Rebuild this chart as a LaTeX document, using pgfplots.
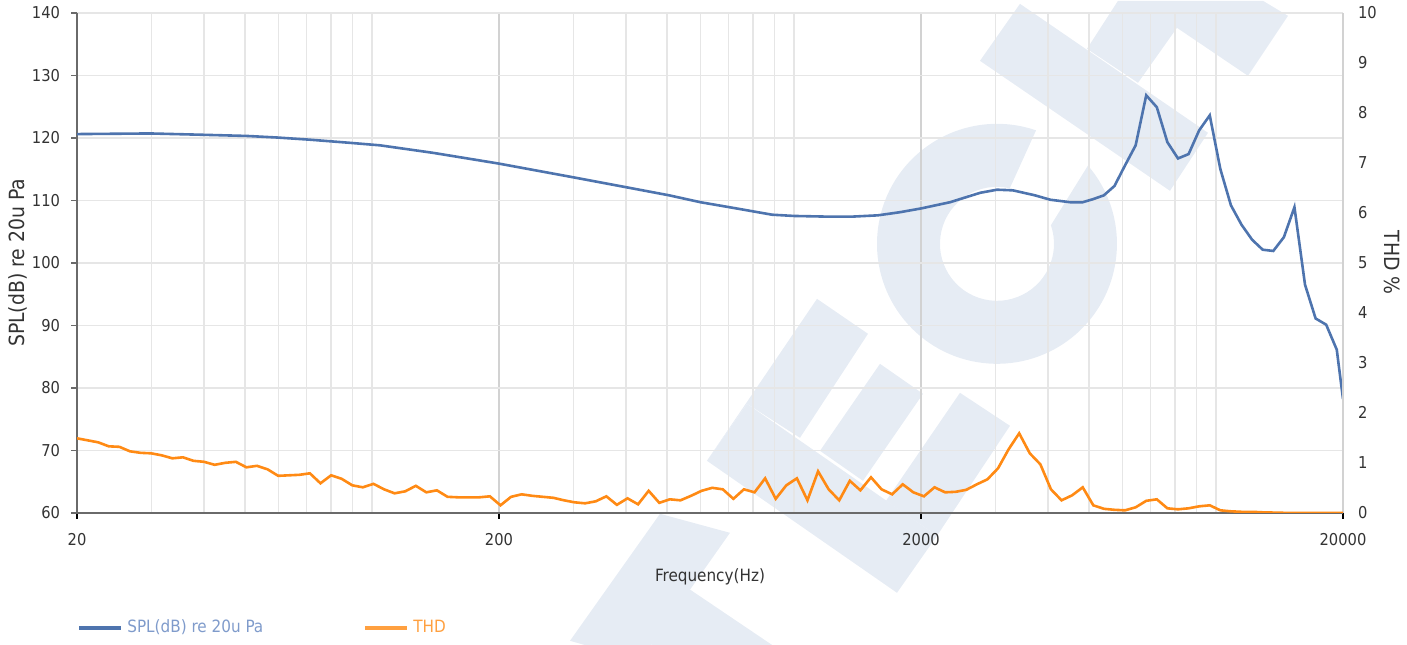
\documentclass[border=0pt]{standalone}
\usepackage{pgfplots}
\pgfplotsset{compat=1.18}
\usepackage{pgfplotstable}
\usepackage{fontspec}
\setmainfont{DejaVu Sans Condensed}

\definecolor{splc}{HTML}{4E74AE}
\definecolor{thdc}{HTML}{FF8A14}
\definecolor{splleg}{HTML}{7F9BCB}
\definecolor{thdleg}{HTML}{FFA040}
\definecolor{gridc}{HTML}{E6E6E6}
\definecolor{gridmaj}{HTML}{D2D2D2}
\definecolor{axc}{HTML}{6A6A6A}
\definecolor{txt}{HTML}{333333}
\definecolor{wmark}{HTML}{E6ECF4}

% SPL response, dB re 20uPa
\pgfplotstableread{
f      spl
20     120.6
29.8   120.7
39.1   120.5
50.6   120.3
59.6   120.05
71.3   119.7
88.7   119.2
104.5  118.8
139.5  117.6
199    115.9
299    113.7
400    112.1
506    110.8
600    109.7
717    108.8
887    107.7
1000   107.5
1184   107.4
1380   107.4
1581   107.6
1783   108.1
2000   108.7
2344   109.7
2760   111.2
3028   111.7
3300   111.6
3724   110.8
4045   110.1
4508   109.7
4833   109.7
5120   110.2
5424   110.8
5747   112.3
6089   115.6
6451   118.8
6834   126.8
7241   124.9
7671   119.3
8128   116.7
8611   117.4
9123   121.2
9665   123.6
10240  115.0
10849  109.2
11494  106.1
12177  103.7
12902  102.1
13669  101.9
14482  104.1
15343  108.9
16255  96.5
17221  91.1
18245  90.1
19330  86.1
20000  78.2
}\spldata

% THD in percent, 1/12 octave points
\pgfplotstableread{
f      thd
20.0   1.49
21.19  1.45
22.45  1.41
23.78  1.33
25.20  1.32
26.70  1.23
28.28  1.20
29.97  1.19
31.75  1.15
33.64  1.09
35.64  1.11
37.76  1.04
40.00  1.02
42.38  0.96
44.90  1.00
47.57  1.02
50.40  0.91
53.40  0.94
56.57  0.87
59.93  0.74
63.50  0.75
67.27  0.76
71.27  0.79
75.51  0.59
80.00  0.75
84.76  0.68
89.80  0.55
95.14  0.51
100.8  0.58
106.8  0.47
113.1  0.39
119.9  0.43
127.0  0.54
134.5  0.41
142.5  0.45
151.0  0.32
160.0  0.31
169.5  0.31
179.6  0.31
190.3  0.33
201.6  0.15
213.6  0.32
226.3  0.37
239.7  0.34
254.0  0.32
269.1  0.30
285.1  0.25
302.0  0.21
320.0  0.19
339.0  0.23
359.2  0.33
380.5  0.16
403.2  0.29
427.1  0.17
452.5  0.44
479.5  0.20
508.0  0.27
538.2  0.25
570.2  0.34
604.1  0.44
640.0  0.50
678.1  0.47
718.4  0.28
761.1  0.47
806.3  0.41
854.3  0.69
905.1  0.28
958.9  0.55
1015.9 0.69
1076.3 0.25
1140.4 0.83
1208.2 0.47
1280   0.25
1356.1 0.64
1436.8 0.45
1522.2 0.71
1612.7 0.47
1708.6 0.37
1810.2 0.57
1917.8 0.41
2031.9 0.33
2152.7 0.51
2280.7 0.41
2416.3 0.42
2560   0.46
2712.2 0.57
2873.5 0.67
3044.4 0.89
3225.4 1.27
3417.2 1.59
3620.4 1.19
3835.6 0.97
4063.7 0.47
4305.3 0.25
4561.4 0.35
4832.6 0.51
5120   0.15
5424.5 0.08
5747   0.06
6088.7 0.05
6450.8 0.11
6834.4 0.24
7240.8 0.27
7671.3 0.09
8127.5 0.07
8610.7 0.09
9122.7 0.13
9665.2 0.15
10240  0.05
10849  0.03
11494  0.02
12177  0.02
12902  0.01
13669  0.005
14482  0
16255  0
18245  0
20000  0
}\thddata

\begin{document}
\begin{tikzpicture}
% fixed page size (1407 x 644 px at 2 px/bp)
\path (-38.5bp,-66bp) rectangle (665bp,256bp);

% faint background watermark, in image pixel units
\begin{scope}[shift={(-38.5bp,256bp)}, x=0.5bp, y=-0.5bp]
  \clip (0,0) rectangle (1407,644);
  \fill[wmark] (980,60) -- (1020,3) -- (1208,132) -- (1170,190) -- cycle;
  \fill[wmark] (1087,48) -- (1118,0) -- (1263,0) -- (1288,15) -- (1248,75)
               -- (1177,27) -- (1138,82) -- cycle;
  \fill[wmark] ([shift={(997,243)}]-40.7:120) arc[start angle=-40.7, end angle=289, radius=120]
               -- ([shift={(997,243)}]283:57) arc[start angle=283, end angle=-19, radius=57] -- cycle;
  \fill[wmark] (707,460) -- (897,592) -- (937,535) -- (747,403) -- cycle;
  \fill[wmark] (817,298) -- (868,333) -- (800,437) -- (747,403) -- (707,460) -- cycle;
  \fill[wmark] (880,363) -- (923,393) -- (863,480) -- (820,450) -- cycle;
  \fill[wmark] (960,392) -- (1010,425) -- (937,535) -- (886,500) -- cycle;
  \fill[wmark] (660,513) -- (730,532) -- (640,660) -- (570,640) -- cycle;
  \fill[wmark] (602,610) -- (800,745) -- (840,690) -- (640,555) -- cycle;
\end{scope}

\begin{axis}[
  width=633bp, height=250bp, scale only axis,
  xmode=log, xmin=20, xmax=20000,
  ymin=60, ymax=140, ytick={60,70,...,140},
  tick label style={font=\fontsize{8.2}{9}\selectfont, text=txt},
  /pgf/number format/assume math mode=true,
  axis x line*=bottom, axis y line*=left,
  axis line style={axc, line width=1.1bp, -},
  xtick={20,200,2000,20000}, xticklabels={20,200,2000,20000},
  minor xtick={30,40,50,60,70,80,90,100,300,400,500,600,700,800,900,1000,3000,4000,5000,6000,7000,8000,9000,10000},
  xmajorgrids, xminorgrids, ymajorgrids,
  major x grid style={gridmaj, line width=0.7bp},
  minor x grid style={gridc, line width=0.7bp},
  major y grid style={gridc, line width=0.7bp},
  tick align=outside, major tick length=3bp, minor tick length=0pt,
  x tick style={black, line width=1.2bp},
  y tick style={axc, line width=0.8bp},
  xticklabel style={yshift=-4bp},
  yticklabel style={xshift=-2bp},
  xlabel={Frequency(Hz)},
  ylabel={SPL(dB) re 20u Pa},
  every axis x label/.style={at={(axis description cs:0.5,-0.128)}, anchor=center,
    font=\fontsize{8.5}{10}\selectfont, text=txt},
  every axis y label/.style={at={(axis description cs:-0.0466,0.5)}, rotate=90, anchor=center,
    font=\fontsize{10.5}{12}\selectfont, text=txt},
  legend columns=2,
  legend style={at={(axis description cs:0,-0.23)}, anchor=west, draw=none, fill=none,
    font=\fontsize{8.5}{10}\selectfont, inner sep=0pt,
    /tikz/every even column/.append style={column sep=48bp}},
  legend image code/.code={\draw[#1, line width=2bp] (0bp,0bp) -- (21bp,0bp);},
]
\addplot[splc, line width=1.3bp] table[x=f, y=spl] {\spldata};
\addlegendentry{\textcolor{splleg}{SPL(dB) re 20u Pa}}
\addlegendimage{thdleg}
\addlegendentry{\textcolor{thdleg}{THD}}
\end{axis}

\begin{axis}[
  width=633bp, height=250bp, scale only axis,
  xmode=log, xmin=20, xmax=20000,
  ymin=0, ymax=10, ytick={0,1,...,10},
  tick label style={font=\fontsize{8.2}{9}\selectfont, text=txt},
  /pgf/number format/assume math mode=true,
  axis x line=none, axis y line*=right,
  axis line style={gridmaj, line width=0.8bp, -},
  major tick length=0pt, minor tick length=0pt,
  yticklabel style={xshift=4bp},
  ylabel={THD \%},
  every axis y label/.style={at={(axis description cs:1.0387,0.5)}, rotate=-90, anchor=center,
    font=\fontsize{10.5}{12}\selectfont, text=txt},
]
\addplot[thdc, line width=1.3bp] table[x=f, y=thd] {\thddata};
\end{axis}
\end{tikzpicture}
\end{document}
